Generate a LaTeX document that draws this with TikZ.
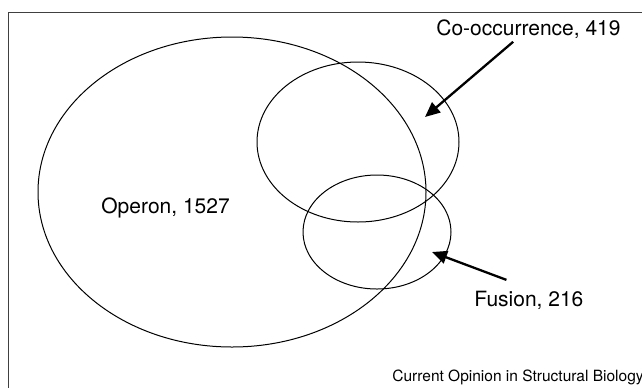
\documentclass[tikz,border=0pt]{standalone}
\usepackage{fontspec}
\setmainfont{TeX Gyre Heros}
\usetikzlibrary{shapes.geometric, arrows.meta}

\begin{document}
\begin{tikzpicture}[
    x=0.5pt, y=-0.5pt,
    >={Triangle[length=7.5pt, width=6.5pt]},
    setring/.style={draw, ellipse, inner sep=0pt, line width=0.5pt},
    label/.style={inner sep=1pt, font=\fontsize{10.5}{12}\selectfont},
    pointer/.style={->, line width=1.15pt}
]

    % Frame and page
    \useasboundingbox (0,0) rectangle (642,387);
    \clip (0,0) rectangle (642,387);
    \draw[black!75, line width=0.5pt] (8,12) rectangle (660,400);

    % Sets
    \node[setring, minimum width=194pt, minimum height=155pt] (operon) at (232,192) {};
    \node[setring, minimum width=101pt, minimum height=80pt] (cooc) at (358,142) {};
    \node[setring, minimum width=74pt, minimum height=57pt] (fusion) at (377,232) {};

    % Labels
    \node[label, anchor=base west] (operonlabel) at (99,213) {Operon, 1527};
    \node[label, anchor=base west] (cooclabel) at (434,35) {Co-occurrence, 419};
    \node[label, anchor=base west] (fusionlabel) at (472,306) {Fusion, 216};
    \node[inner sep=0pt, anchor=base west, font=\fontsize{7.75}{9}\selectfont] (credit) at (392,381) {Current Opinion in Structural Biology};

    % Pointers
    \coordinate (cooctip) at (425,117);
    \coordinate (fusiontip) at (432,252);
    \draw[pointer, shorten <=1pt] (cooclabel) -- (cooctip);
    \draw[pointer, shorten <=12pt] (fusionlabel.north) -- (fusiontip);

\end{tikzpicture}
\end{document}
